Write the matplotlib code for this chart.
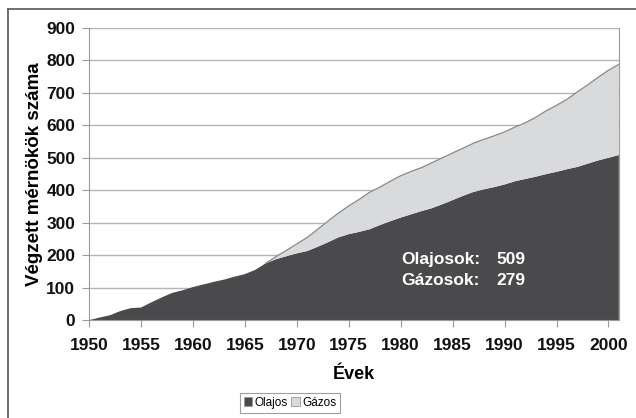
import numpy as np
import matplotlib.pyplot as plt
from matplotlib.lines import Line2D

plt.rcParams['font.family'] = ['Liberation Sans', 'DejaVu Sans']

# adatok (leolvasva a grafikonrol)
evek = list(range(1950, 2002))
olajos = [0, 8, 15, 28, 37, 39, 55, 70, 84, 92,
          102, 110, 118, 125, 134, 142, 155, 175, 188, 197,
          206, 213, 226, 240, 255, 265, 272, 280, 293, 305,
          316, 326, 336, 345, 357, 370, 383, 395, 403, 410,
          418, 428, 435, 442, 450, 457, 465, 472, 482, 492,
          500, 509]
gazos = [0] * 18 + [8, 18,
         29, 42, 54, 65, 75, 87, 100, 114, 117, 123,
         129, 132, 134, 140, 143, 145, 147, 150, 154, 158,
         162, 167, 173, 183, 195, 205, 215, 231, 243, 256,
         270, 279]
sorozat_nevek = ['Olajos', 'Gázos']
szinek = ['#4a4a4c', '#d9dadc']

fig = plt.figure(figsize=(6.36, 4.18), dpi=100)
ax = fig.add_axes([0.140, 0.234, 0.833, 0.699])

ax.stackplot(evek, olajos, gazos, colors=szinek, labels=sorozat_nevek)

# felso szegely a gazos teruleten
osszes = np.array(olajos) + np.array(gazos)
ax.plot(evek[17:], osszes[17:], color='#8a8a8a', lw=0.9)

ax.set_xlim(1950, 2001)
ax.set_ylim(0, 900)
ax.set_xticks(range(1950, 2001, 5))
ax.set_yticks(range(0, 901, 100))
ax.yaxis.grid(True, color='#b5b5b5', lw=1.0)
ax.set_axisbelow(True)

ax.spines['top'].set_visible(False)
for s in ['left', 'right', 'bottom']:
    ax.spines[s].set_color('#9a9a9a')

ax.tick_params(axis='both', colors='#9a9a9a', length=5, labelcolor='#111111')
ax.tick_params(axis='x', pad=8)
ax.tick_params(axis='y', pad=5)
for lab in ax.get_xticklabels() + ax.get_yticklabels():
    lab.set_fontsize(12.5)
    lab.set_fontweight('bold')

ax.set_xlabel('Évek', fontsize=13, fontweight='bold', labelpad=9)
ax.set_ylabel('Végzett mérnökök száma', fontsize=13.5, fontweight='bold', labelpad=2)

# feliratok a grafikonon
ax.text(1980.1, 186, 'Olajosok:', color='white', fontsize=12.5, fontweight='bold',
        ha='left', va='center')
ax.text(1992.0, 186, '509', color='white', fontsize=12.5, fontweight='bold',
        ha='right', va='center')
ax.text(1980.1, 122, 'Gázosok:', color='white', fontsize=12.5, fontweight='bold',
        ha='left', va='center')
ax.text(1992.0, 122, '279', color='white', fontsize=12.5, fontweight='bold',
        ha='right', va='center')

leg = fig.legend(loc='center', bbox_to_anchor=(290 / 636, 1 - 403 / 418), ncol=2,
                 fontsize=8.5, frameon=True, fancybox=False, handlelength=0.7,
                 handleheight=0.8, handletextpad=0.2, columnspacing=0.3,
                 borderpad=0.3, borderaxespad=0, edgecolor='#888888')
leg.get_frame().set_linewidth(0.8)
for h in leg.legend_handles:
    h.set_edgecolor('#999999')
    h.set_linewidth(0.6)

# kulso keret
fig.add_artist(Line2D([8 / 636, 1], [1 - 9 / 418, 1 - 9 / 418], color='#555555', lw=1.2))
fig.add_artist(Line2D([8 / 636, 8 / 636], [0, 1 - 9 / 418], color='#555555', lw=1.2))

fig.savefig('out.png', dpi=100)
